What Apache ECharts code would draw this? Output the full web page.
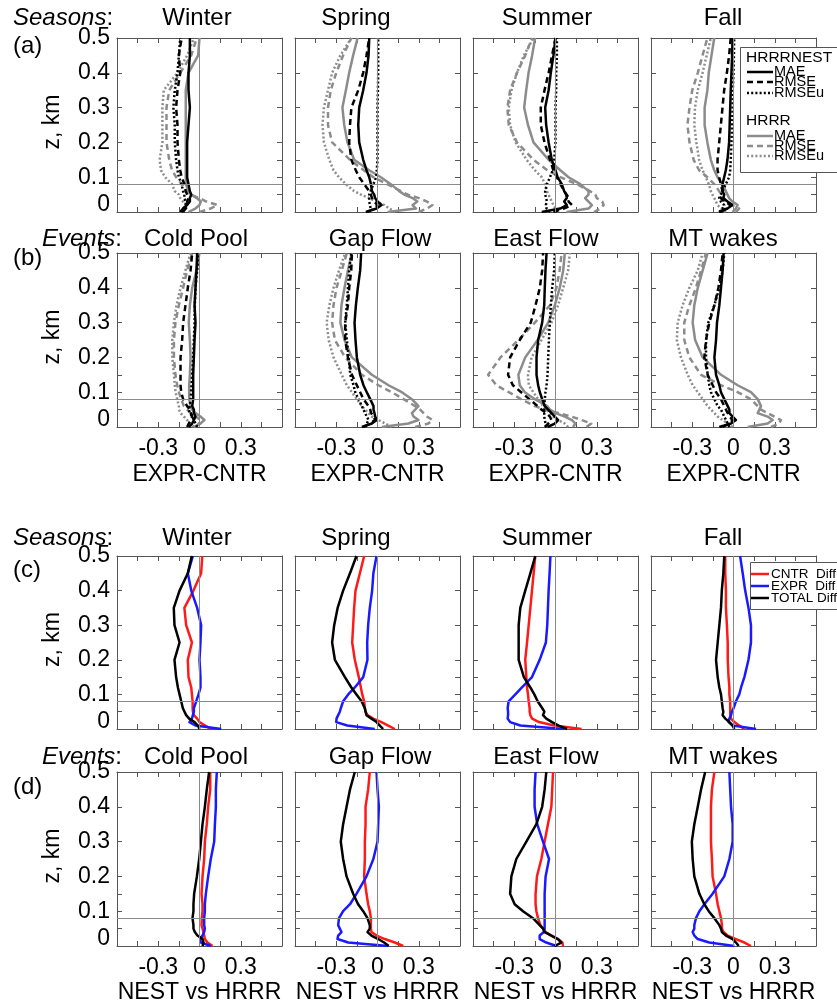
<!DOCTYPE html>
<html>
<head>
<meta charset="utf-8">
<script src="https://cdn.jsdelivr.net/npm/echarts@6/dist/echarts.min.js"></script>
<style>
  html, body { margin: 0; padding: 0; background: #fff; }
  #chart { width: 837px; height: 1007px; }
</style>
</head>
<body>
<div id="chart"></div>
<script>
// Heights (km) shared by every profile
const Z = [0, 0.01, 0.02, 0.03, 0.04, 0.05, 0.06, 0.08, 0.1, 0.12, 0.15, 0.2, 0.25, 0.3, 0.35, 0.4, 0.45, 0.5];

const seasonNames = ['Winter', 'Spring', 'Summer', 'Fall'];
const eventNames = ['Cold Pool', 'Gap Flow', 'East Flow', 'MT wakes'];
const xTickLabels = ['-0.3', '0', '0.3'];
const yTickLabels = ['0', '0.1', '0.2', '0.3', '0.4', '0.5'];
const REF_X = 0;
const REF_Z = 0.08;

// ---- (a) EXPR-CNTR by season ----
const a_winter_nestMae   = [-0.14, -0.12, -0.09, -0.07, -0.07, -0.06, -0.07, -0.08, -0.09, -0.09, -0.09, -0.09, -0.08, -0.07, -0.08, -0.08, -0.07, -0.07];
const a_winter_nestRmse  = [-0.12, -0.10, -0.08, -0.09, -0.08, -0.09, -0.10, -0.11, -0.13, -0.14, -0.15, -0.16, -0.16, -0.17, -0.16, -0.14, -0.15, -0.13];
const a_winter_nestRmseu = [-0.13, -0.11, -0.10, -0.10, -0.11, -0.11, -0.12, -0.13, -0.15, -0.16, -0.17, -0.18, -0.18, -0.19, -0.18, -0.16, -0.15, -0.14];
const a_winter_hrrrMae   = [-0.08, -0.03, 0.00, 0.01, -0.02, -0.06, -0.08, -0.10, -0.10, -0.10, -0.10, -0.10, -0.10, -0.10, -0.10, -0.08, -0.01, 0.00];
const a_winter_hrrrRmse  = [0.00, 0.08, 0.13, 0.05, 0.00, -0.07, -0.10, -0.13, -0.17, -0.20, -0.22, -0.24, -0.24, -0.24, -0.22, -0.14, -0.06, -0.02];
const a_winter_hrrrRmseu = [-0.14, -0.12, -0.10, -0.12, -0.14, -0.15, -0.18, -0.20, -0.25, -0.28, -0.29, -0.27, -0.27, -0.27, -0.26, -0.16, -0.09, -0.04];

const a_spring_nestMae   = [-0.085, -0.007, 0.03, 0.0, -0.017, -0.024, -0.04, -0.048, -0.06, -0.08, -0.104, -0.133, -0.14, -0.133, -0.104, -0.08, -0.065, -0.06];
const a_spring_nestRmse  = [-0.073, -0.024, 0.0, -0.024, -0.04, -0.048, -0.06, -0.097, -0.133, -0.158, -0.19, -0.206, -0.2, -0.19, -0.14, -0.104, -0.08, -0.06];
const a_spring_nestRmseu = [-0.06, -0.05, -0.055, -0.06, -0.06, -0.06, -0.05, -0.03, -0.01, -0.005, 0.0, 0.0, 0.0, 0.0, 0.003, 0.005, 0.005, 0.005];
const a_spring_hrrrMae   = [0.073, 0.28, 0.255, 0.29, 0.255, 0.194, 0.158, 0.097, 0.024, -0.06, -0.17, -0.218, -0.242, -0.255, -0.23, -0.206, -0.177, -0.145];
const a_spring_hrrrRmse  = [0.30, 0.36, 0.40, 0.36, 0.30, 0.22, 0.17, 0.07, -0.03, -0.10, -0.20, -0.33, -0.36, -0.36, -0.34, -0.30, -0.25, -0.19];
const a_spring_hrrrRmseu = [0.13, 0.085, 0.05, -0.01, -0.06, -0.12, -0.17, -0.23, -0.28, -0.32, -0.35, -0.39, -0.40, -0.39, -0.36, -0.33, -0.27, -0.19];

const a_summer_nestMae   = [-0.1, 0.034, 0.082, 0.063, 0.082, 0.078, 0.063, 0.046, 0.015, 0.0, -0.027, -0.05, -0.068, -0.075, -0.05, -0.034, -0.015, 0.0];
const a_summer_nestRmse  = [-0.015, 0.06, 0.12, 0.095, 0.1, 0.08, 0.065, 0.035, 0.01, -0.015, -0.04, -0.08, -0.107, -0.107, -0.08, -0.05, -0.025, 0.0];
const a_summer_nestRmseu = [-0.04, -0.065, -0.07, -0.063, -0.068, -0.075, -0.075, -0.063, -0.04, -0.02, -0.01, 0.0, 0.0, 0.0, 0.005, 0.005, 0.01, 0.01];
const a_summer_hrrrMae   = [0.08, 0.24, 0.265, 0.24, 0.215, 0.24, 0.24, 0.18, 0.095, 0.035, -0.05, -0.16, -0.2, -0.228, -0.213, -0.196, -0.17, -0.148];
const a_summer_hrrrRmse  = [0.28, 0.325, 0.35, 0.34, 0.3, 0.29, 0.25, 0.155, 0.035, -0.06, -0.16, -0.28, -0.34, -0.35, -0.33, -0.28, -0.22, -0.17];
const a_summer_hrrrRmseu = [0.01, 0.0, -0.015, -0.027, -0.039, -0.05, -0.063, -0.075, -0.1, -0.15, -0.21, -0.29, -0.33, -0.34, -0.32, -0.28, -0.23, -0.16];

const a_fall_nestMae   = [-0.104, -0.044, -0.007, -0.044, -0.073, -0.068, -0.08, -0.08, -0.068, -0.056, -0.044, -0.032, -0.028, -0.024, -0.02, -0.015, -0.01, -0.007];
const a_fall_nestRmse  = [-0.092, -0.056, -0.02, -0.068, -0.092, -0.08, -0.08, -0.092, -0.104, -0.116, -0.116, -0.104, -0.092, -0.08, -0.068, -0.048, -0.032, -0.02];
const a_fall_nestRmseu = [-0.104, -0.08, -0.068, -0.092, -0.104, -0.092, -0.08, -0.056, -0.032, -0.024, -0.02, -0.015, -0.01, -0.007, -0.005, 0.0, 0.003, 0.005];
const a_fall_hrrrMae   = [-0.007, 0.017, 0.03, -0.007, -0.032, -0.044, -0.056, -0.08, -0.116, -0.14, -0.165, -0.19, -0.21, -0.21, -0.19, -0.18, -0.16, -0.14];
const a_fall_hrrrRmse  = [0.017, 0.041, -0.007, -0.056, -0.08, -0.092, -0.104, -0.14, -0.19, -0.25, -0.29, -0.32, -0.335, -0.32, -0.3, -0.26, -0.225, -0.19];
const a_fall_hrrrRmseu = [-0.056, -0.092, -0.116, -0.128, -0.14, -0.153, -0.165, -0.18, -0.2, -0.225, -0.25, -0.27, -0.285, -0.28, -0.26, -0.225, -0.195, -0.165];

// ---- (b) EXPR-CNTR by event ----
const b_cold_nestMae   = [-0.078, -0.053, -0.041, -0.029, -0.041, -0.041, -0.053, -0.046, -0.046, -0.046, -0.046, -0.041, -0.036, -0.029, -0.036, -0.029, -0.022, -0.017];
const b_cold_nestRmse  = [-0.09, -0.078, -0.065, -0.053, -0.061, -0.07, -0.09, -0.119, -0.133, -0.138, -0.138, -0.138, -0.126, -0.119, -0.102, -0.085, -0.065, -0.053];
const b_cold_nestRmseu = [-0.017, -0.029, -0.041, -0.053, -0.07, -0.078, -0.07, -0.065, -0.061, -0.058, -0.053, -0.046, -0.041, -0.036, -0.034, -0.029, -0.017, -0.005];
const b_cold_hrrrMae   = [-0.041, 0.007, 0.036, 0.007, -0.029, -0.053, -0.065, -0.075, -0.075, -0.075, -0.07, -0.065, -0.07, -0.078, -0.07, -0.053, -0.022, 0.0];
const b_cold_hrrrRmse  = [-0.029, -0.005, 0.007, -0.029, -0.065, -0.09, -0.114, -0.133, -0.15, -0.162, -0.175, -0.186, -0.186, -0.175, -0.15, -0.119, -0.09, -0.053];
const b_cold_hrrrRmseu = [-0.041, -0.065, -0.09, -0.114, -0.138, -0.15, -0.15, -0.162, -0.174, -0.18, -0.186, -0.198, -0.198, -0.186, -0.167, -0.138, -0.102, -0.065];

const b_gap_nestMae   = [-0.114, -0.041, -0.005, -0.017, -0.022, -0.029, -0.029, -0.053, -0.078, -0.102, -0.126, -0.15, -0.16, -0.167, -0.157, -0.143, -0.126, -0.119];
const b_gap_nestRmse  = [-0.102, -0.053, -0.017, -0.029, -0.046, -0.053, -0.065, -0.102, -0.126, -0.15, -0.186, -0.215, -0.235, -0.235, -0.215, -0.206, -0.191, -0.186];
const b_gap_nestRmseu = [-0.09, -0.078, -0.065, -0.078, -0.09, -0.102, -0.114, -0.138, -0.162, -0.174, -0.198, -0.21, -0.223, -0.235, -0.223, -0.215, -0.206, -0.191];
const b_gap_hrrrMae   = [0.031, 0.225, 0.298, 0.262, 0.25, 0.274, 0.298, 0.25, 0.177, 0.08, -0.041, -0.186, -0.24, -0.27, -0.262, -0.24, -0.215, -0.186];
const b_gap_hrrrRmse  = [0.274, 0.37, 0.4, 0.359, 0.335, 0.31, 0.274, 0.19, 0.104, 0.007, -0.114, -0.235, -0.31, -0.33, -0.32, -0.298, -0.26, -0.223];
const b_gap_hrrrRmseu = [0.104, 0.055, 0.007, -0.041, -0.065, -0.09, -0.114, -0.15, -0.186, -0.223, -0.26, -0.32, -0.355, -0.37, -0.35, -0.32, -0.28, -0.235];

const b_east_nestMae   = [-0.058, -0.005, 0.019, -0.005, -0.029, -0.053, -0.078, -0.097, -0.114, -0.126, -0.138, -0.138, -0.126, -0.097, -0.082, -0.078, -0.073, -0.065];
const b_east_nestRmse  = [-0.078, -0.053, -0.029, -0.041, -0.065, -0.102, -0.13, -0.19, -0.25, -0.31, -0.345, -0.33, -0.26, -0.18, -0.145, -0.114, -0.097, -0.09];
const b_east_nestRmseu = [-0.065, -0.073, -0.078, -0.082, -0.082, -0.082, -0.082, -0.078, -0.073, -0.065, -0.058, -0.053, -0.048, -0.041, -0.034, -0.024, -0.01, -0.005];
const b_east_hrrrMae   = [0.128, 0.145, 0.12, 0.068, 0.0, -0.04, -0.06, -0.15, -0.223, -0.26, -0.27, -0.22, -0.13, -0.053, -0.005, 0.031, 0.056, 0.068];
const b_east_hrrrRmse  = [0.225, 0.26, 0.19, 0.116, 0.02, -0.078, -0.15, -0.25, -0.34, -0.43, -0.49, -0.4, -0.27, -0.15, -0.04, 0.007, 0.03, 0.045];
const b_east_hrrrRmseu = [0.092, 0.068, 0.019, -0.017, -0.041, -0.065, -0.09, -0.126, -0.162, -0.194, -0.2, -0.174, -0.102, -0.029, 0.019, 0.056, 0.092, 0.104];

const b_mt_nestMae   = [-0.103, -0.018, 0.018, -0.006, -0.03, -0.03, -0.042, -0.067, -0.091, -0.103, -0.127, -0.139, -0.127, -0.12, -0.103, -0.091, -0.079, -0.072];
const b_mt_nestRmse  = [-0.079, -0.03, -0.006, -0.03, -0.042, -0.055, -0.067, -0.091, -0.127, -0.151, -0.188, -0.212, -0.2, -0.176, -0.139, -0.11, -0.091, -0.079];
const b_mt_nestRmseu = [-0.03, -0.042, -0.055, -0.067, -0.079, -0.091, -0.115, -0.139, -0.164, -0.176, -0.188, -0.2, -0.2, -0.183, -0.139, -0.103, -0.079, -0.067];
const b_mt_hrrrMae   = [0.103, 0.248, 0.285, 0.248, 0.176, 0.188, 0.2, 0.176, 0.127, 0.03, -0.091, -0.224, -0.279, -0.297, -0.285, -0.26, -0.224, -0.188];
const b_mt_hrrrRmse  = [0.273, 0.333, 0.345, 0.297, 0.248, 0.2, 0.176, 0.127, 0.03, -0.091, -0.236, -0.321, -0.358, -0.358, -0.321, -0.273, -0.236, -0.2];
const b_mt_hrrrRmseu = [-0.006, -0.042, -0.079, -0.115, -0.139, -0.164, -0.188, -0.224, -0.26, -0.297, -0.333, -0.382, -0.412, -0.406, -0.37, -0.321, -0.26, -0.224];

// ---- (c) NEST vs HRRR by season ----
const c_winter_cntr  = [0.085, 0.041, 0.0, -0.017, -0.041, -0.048, -0.05, -0.05, -0.055, -0.06, -0.08, -0.085, -0.055, -0.097, -0.11, -0.044, 0.012, 0.02];
const c_winter_expr  = [0.158, -0.03, -0.073, -0.055, -0.048, -0.041, -0.041, -0.024, -0.007, 0.007, 0.007, 0.0, 0.007, 0.012, -0.017, -0.06, -0.085, -0.048];
const c_winter_total = [0.0, -0.012, -0.036, -0.075, -0.097, -0.109, -0.121, -0.133, -0.145, -0.157, -0.17, -0.182, -0.145, -0.182, -0.187, -0.145, -0.085, -0.056];

const c_spring_cntr  = [0.126, 0.078, 0.029, -0.031, -0.073, -0.087, -0.092, -0.097, -0.111, -0.121, -0.136, -0.165, -0.184, -0.177, -0.17, -0.16, -0.128, -0.097];
const c_spring_expr  = [-0.02, -0.22, -0.3, -0.298, -0.286, -0.274, -0.267, -0.25, -0.213, -0.165, -0.104, -0.073, -0.075, -0.068, -0.056, -0.039, -0.03, -0.007];
const c_spring_total = [0.041, 0.017, -0.007, -0.044, -0.08, -0.087, -0.092, -0.116, -0.153, -0.19, -0.237, -0.31, -0.33, -0.315, -0.29, -0.25, -0.2, -0.153];

const c_summer_cntr  = [0.19, -0.01, -0.12, -0.17, -0.183, -0.188, -0.188, -0.195, -0.2, -0.207, -0.212, -0.22, -0.207, -0.195, -0.183, -0.171, -0.159, -0.147];
const c_summer_expr  = [0.06, -0.255, -0.33, -0.348, -0.345, -0.345, -0.348, -0.341, -0.292, -0.244, -0.171, -0.115, -0.07, -0.06, -0.055, -0.05, -0.043, -0.037];
const c_summer_total = [0.084, 0.023, -0.025, -0.067, -0.091, -0.081, -0.096, -0.13, -0.154, -0.183, -0.23, -0.268, -0.268, -0.268, -0.256, -0.22, -0.183, -0.147];

const c_fall_cntr  = [0.079, 0.042, 0.006, -0.018, -0.024, -0.024, -0.024, -0.024, -0.03, -0.03, -0.036, -0.042, -0.042, -0.048, -0.055, -0.055, -0.06, -0.06];
const c_fall_expr  = [0.164, -0.006, -0.036, -0.03, -0.018, -0.012, 0.0, 0.018, 0.042, 0.055, 0.079, 0.109, 0.127, 0.127, 0.109, 0.085, 0.067, 0.048];
const c_fall_total = [0.006, -0.006, -0.03, -0.06, -0.079, -0.074, -0.079, -0.085, -0.091, -0.103, -0.115, -0.127, -0.115, -0.103, -0.091, -0.085, -0.074, -0.067];

// ---- (d) NEST vs HRRR by event ----
const d_cold_cntr  = [0.095, 0.058, 0.039, 0.034, 0.029, 0.022, 0.015, 0.017, 0.022, 0.022, 0.015, 0.022, 0.034, 0.039, 0.053, 0.063, 0.078, 0.078];
const d_cold_expr  = [0.082, 0.01, 0.005, 0.022, 0.034, 0.039, 0.034, 0.034, 0.039, 0.039, 0.046, 0.063, 0.082, 0.107, 0.112, 0.119, 0.119, 0.126];
const d_cold_total = [0.022, 0.029, 0.022, -0.015, -0.034, -0.044, -0.044, -0.051, -0.044, -0.044, -0.039, -0.019, -0.002, 0.01, 0.022, 0.039, 0.053, 0.07];

const d_gap_cntr  = [0.187, 0.126, 0.053, -0.007, -0.044, -0.048, -0.048, -0.048, -0.056, -0.068, -0.08, -0.097, -0.092, -0.092, -0.087, -0.087, -0.068, -0.056];
const d_gap_expr  = [0.078, -0.213, -0.291, -0.286, -0.262, -0.274, -0.286, -0.28, -0.25, -0.2, -0.153, -0.08, -0.03, 0.0, 0.005, 0.01, 0.0, -0.007];
const d_gap_total = [0.082, 0.048, 0.005, -0.044, -0.073, -0.056, -0.056, -0.073, -0.104, -0.141, -0.177, -0.225, -0.25, -0.267, -0.25, -0.225, -0.2, -0.165];

const d_east_cntr  = [0.055, 0.05, 0.018, -0.03, -0.072, -0.091, -0.11, -0.127, -0.139, -0.145, -0.145, -0.135, -0.103, -0.079, -0.055, -0.03, -0.024, -0.018];
const d_east_expr  = [0.006, -0.067, -0.115, -0.115, -0.085, -0.079, -0.079, -0.079, -0.079, -0.079, -0.079, -0.072, -0.047, -0.091, -0.133, -0.152, -0.152, -0.145];
const d_east_total = [-0.006, 0.042, 0.018, -0.03, -0.079, -0.091, -0.115, -0.164, -0.236, -0.297, -0.33, -0.321, -0.285, -0.212, -0.139, -0.097, -0.079, -0.067];

const d_mt_cntr  = [0.127, 0.079, 0.018, -0.042, -0.073, -0.084, -0.084, -0.091, -0.103, -0.115, -0.127, -0.152, -0.157, -0.164, -0.164, -0.164, -0.157, -0.139];
const d_mt_expr  = [0.006, -0.176, -0.26, -0.285, -0.297, -0.285, -0.285, -0.273, -0.248, -0.212, -0.152, -0.067, -0.03, -0.006, -0.006, -0.018, -0.024, -0.03];
const d_mt_total = [0.038, 0.018, -0.006, -0.055, -0.084, -0.091, -0.103, -0.139, -0.18, -0.212, -0.248, -0.285, -0.297, -0.303, -0.285, -0.26, -0.236, -0.206];

// ---------------- layout & styles ----------------
const FONT = '"Liberation Sans", Arial, Helvetica, sans-serif';
const GRID_LEFT = [117, 295, 473, 651];
const GRID_TOP = [38, 253, 556, 772];
const GRID_W = 165;
const GRID_H = [174, 174, 173, 174];
const BOX = '#555';
const GRAY = '#8c8c8c';
const RED = '#ff1a1a';
const BLUE = '#1a1aff';
const DASH = [6, 4];
const DOT = [2, 2.2];

const statStyles = [
  { color: '#000', type: 'solid' }, { color: '#000', type: DASH }, { color: '#000', type: DOT },
  { color: GRAY, type: 'solid' }, { color: GRAY, type: DASH }, { color: GRAY, type: DOT }
];
const diffStyles = [
  { color: RED, type: 'solid' }, { color: BLUE, type: 'solid' }, { color: '#000', type: 'solid' }
];

const panels = [
  [a_winter_nestMae, a_winter_nestRmse, a_winter_nestRmseu, a_winter_hrrrMae, a_winter_hrrrRmse, a_winter_hrrrRmseu],
  [a_spring_nestMae, a_spring_nestRmse, a_spring_nestRmseu, a_spring_hrrrMae, a_spring_hrrrRmse, a_spring_hrrrRmseu],
  [a_summer_nestMae, a_summer_nestRmse, a_summer_nestRmseu, a_summer_hrrrMae, a_summer_hrrrRmse, a_summer_hrrrRmseu],
  [a_fall_nestMae, a_fall_nestRmse, a_fall_nestRmseu, a_fall_hrrrMae, a_fall_hrrrRmse, a_fall_hrrrRmseu],
  [b_cold_nestMae, b_cold_nestRmse, b_cold_nestRmseu, b_cold_hrrrMae, b_cold_hrrrRmse, b_cold_hrrrRmseu],
  [b_gap_nestMae, b_gap_nestRmse, b_gap_nestRmseu, b_gap_hrrrMae, b_gap_hrrrRmse, b_gap_hrrrRmseu],
  [b_east_nestMae, b_east_nestRmse, b_east_nestRmseu, b_east_hrrrMae, b_east_hrrrRmse, b_east_hrrrRmseu],
  [b_mt_nestMae, b_mt_nestRmse, b_mt_nestRmseu, b_mt_hrrrMae, b_mt_hrrrRmse, b_mt_hrrrRmseu],
  [c_winter_cntr, c_winter_expr, c_winter_total],
  [c_spring_cntr, c_spring_expr, c_spring_total],
  [c_summer_cntr, c_summer_expr, c_summer_total],
  [c_fall_cntr, c_fall_expr, c_fall_total],
  [d_cold_cntr, d_cold_expr, d_cold_total],
  [d_gap_cntr, d_gap_expr, d_gap_total],
  [d_east_cntr, d_east_expr, d_east_total],
  [d_mt_cntr, d_mt_expr, d_mt_total]
];

function xLabel(v) {
  const k = Math.round(v / 0.15);
  if (k === -2) return xTickLabels[0];
  if (k === 0) return xTickLabels[1];
  if (k === 2) return xTickLabels[2];
  return '';
}
function yLabel(v) {
  const k = Math.round(v * 20);
  if (k % 2 !== 0) return '';
  if (k === 0) return '{z|' + yTickLabels[0] + '}';
  return yTickLabels[k / 2];
}

const grid = [], xAxis = [], yAxis = [], series = [];
const tickStyle = { show: true, inside: true, length: 5, lineStyle: { color: BOX, width: 1 } };
const lineAxis = { show: true, onZero: false, lineStyle: { color: BOX, width: 1 } };
const yTicks = [0, 0.05, 0.1, 0.15, 0.2, 0.3, 0.4, 0.5];

for (let r = 0; r < 4; r++) {
  for (let c = 0; c < 4; c++) {
    const p = r * 4 + c;
    grid.push({ left: GRID_LEFT[c], top: GRID_TOP[r], width: GRID_W, height: GRID_H[r] });
    const xBase = { gridIndex: p, type: 'value', min: -0.6, max: 0.6, interval: 0.15,
      axisLine: lineAxis, axisTick: tickStyle, splitLine: { show: false } };
    xAxis.push(Object.assign({}, xBase, { position: 'bottom',
      axisLabel: { show: r === 1 || r === 3, formatter: xLabel, fontSize: 23, fontFamily: FONT,
        color: '#000', margin: 10, showMinLabel: true, showMaxLabel: true, hideOverlap: false } }));
    xAxis.push(Object.assign({}, xBase, { position: 'top', axisLabel: { show: false } }));
    const yBase = { gridIndex: p, type: 'value', min: 0, max: 0.5, interval: 0.05,
      axisLine: lineAxis, splitLine: { show: false },
      axisTick: Object.assign({}, tickStyle, { customValues: yTicks }) };
    yAxis.push(Object.assign({}, yBase, { position: 'left',
      axisLabel: { show: c === 0, formatter: yLabel, fontSize: 23, fontFamily: FONT, color: '#000',
        margin: 7, showMinLabel: true, showMaxLabel: true, hideOverlap: false,
        rich: { z: { fontSize: 23, fontFamily: FONT, color: '#000', padding: [0, 0, 14, 0] } } } }));
    yAxis.push(Object.assign({}, yBase, { position: 'right', axisLabel: { show: false } }));

    // thin reference lines at x = 0 and z = 0.08
    series.push({ type: 'line', xAxisIndex: 2 * p, yAxisIndex: 2 * p, data: [], silent: true, z: 1,
      markLine: { silent: true, symbol: 'none', animation: false, label: { show: false },
        lineStyle: { color: '#8a8a8a', width: 1, type: 'solid' },
        data: [{ xAxis: REF_X }, { yAxis: REF_Z }] } });

    const styles = r < 2 ? statStyles : diffStyles;
    // draw HRRR (grey) underneath NEST (black)
    const order = r < 2 ? [3, 4, 5, 0, 1, 2] : [0, 1, 2];
    order.forEach(i => {
      const vals = panels[p][i];
      series.push({ type: 'line', xAxisIndex: 2 * p, yAxisIndex: 2 * p, silent: true, z: 2,
        symbol: 'none', showSymbol: false, animation: false,
        data: Z.map((z, k) => [vals[k], z]),
        lineStyle: { color: styles[i].color, width: 2.5, type: styles[i].type, cap: 'butt', join: 'round' } });
    });
  }
}

// ---------------- text & legends ----------------
const g = [];
function txt(x, y, text, size, align, extra) {
  return Object.assign({ type: 'text', x: x, y: y, silent: true, z: 100,
    style: { text: text, fontSize: size, fontFamily: FONT, fill: '#000', textAlign: align, textVerticalAlign: 'middle' } }, extra || {});
}
const titleY = [18, 239, 538, 757];
const titleX = [[197, 356, 547, 723], [196, 380, 546, 723], [197, 356, 547, 723], [196, 380, 546, 723]];
for (let r = 0; r < 4; r++) {
  const names = (r % 2 === 0) ? seasonNames : eventNames;
  for (let c = 0; c < 4; c++) g.push(txt(titleX[r][c], titleY[r], names[c], 24, 'center'));
}
const rowHead = [['Seasons', 13], ['Events', 42], ['Seasons', 13], ['Events', 42]];
rowHead.forEach((h, r) => {
  const t = txt(h[1], titleY[r], '{i|' + h[0] + '}:', 24, 'left');
  t.style.rich = { i: { fontStyle: 'italic', fontSize: 24, fontFamily: FONT, fill: '#000' } };
  g.push(t);
});
const panelTags = ['(a)', '(b)', '(c)', '(d)'];
const tagY = [46, 258, 570, 787];
panelTags.forEach((t, r) => g.push(txt(13, tagY[r], t, 24, 'left')));
for (let r = 0; r < 4; r++) {
  g.push(txt(53, GRID_TOP[r] + GRID_H[r] / 2 - 3, 'z, km', 23, 'center', { rotation: Math.PI / 2 }));
}
const xNames = ['EXPR-CNTR', 'NEST vs HRRR'];
[[1, 475], [3, 993]].forEach((rr, i) => {
  for (let c = 0; c < 4; c++) g.push(txt(GRID_LEFT[c] + GRID_W / 2, rr[1], xNames[i], 23, 'center'));
});

// legend for (a)
const legA = { x: 740, y: 47, w: 120, h: 125 };
g.push({ type: 'rect', silent: true, z: 90, shape: { x: legA.x + 0.5, y: legA.y + 0.5, width: legA.w, height: legA.h },
  style: { fill: '#fff', stroke: BOX, lineWidth: 1 } });
const legGroups = [['HRRRNEST', 58, [72, 82, 93], 0], ['HRRR', 121, [136, 146, 156], 3]];
const statNames = ['MAE', 'RMSE', 'RMSEu'];
legGroups.forEach(gr => {
  g.push(txt(746, gr[1], gr[0], 15.5, 'left'));
  gr[2].forEach((yy, k) => {
    const st = statStyles[gr[3] + k];
    g.push({ type: 'line', silent: true, z: 100, shape: { x1: 747, y1: yy, x2: 773, y2: yy },
      style: { stroke: st.color, lineWidth: 2.5, lineDash: st.type === 'solid' ? null : st.type } });
    g.push(txt(774, yy, statNames[k], 14.5, 'left'));
  });
});

// legend for (c)
g.push({ type: 'rect', silent: true, z: 90, shape: { x: 750.5, y: 562.5, width: 110, height: 47 },
  style: { fill: '#fff', stroke: BOX, lineWidth: 1 } });
const diffNames = ['CNTR  Diff', 'EXPR  Diff', 'TOTAL Diff'];
[574, 586, 598].forEach((yy, k) => {
  g.push({ type: 'line', silent: true, z: 100, shape: { x1: 751, y1: yy, x2: 769, y2: yy },
    style: { stroke: diffStyles[k].color, lineWidth: 2.5 } });
  g.push(txt(771, yy, diffNames[k], 13.5, 'left'));
});

const chart = echarts.init(document.getElementById('chart'), null, { renderer: 'canvas' });
chart.setOption({
  animation: false,
  backgroundColor: '#fff',
  grid: grid, xAxis: xAxis, yAxis: yAxis, series: series,
  graphic: { elements: g }
});
</script>
</body>
</html>
